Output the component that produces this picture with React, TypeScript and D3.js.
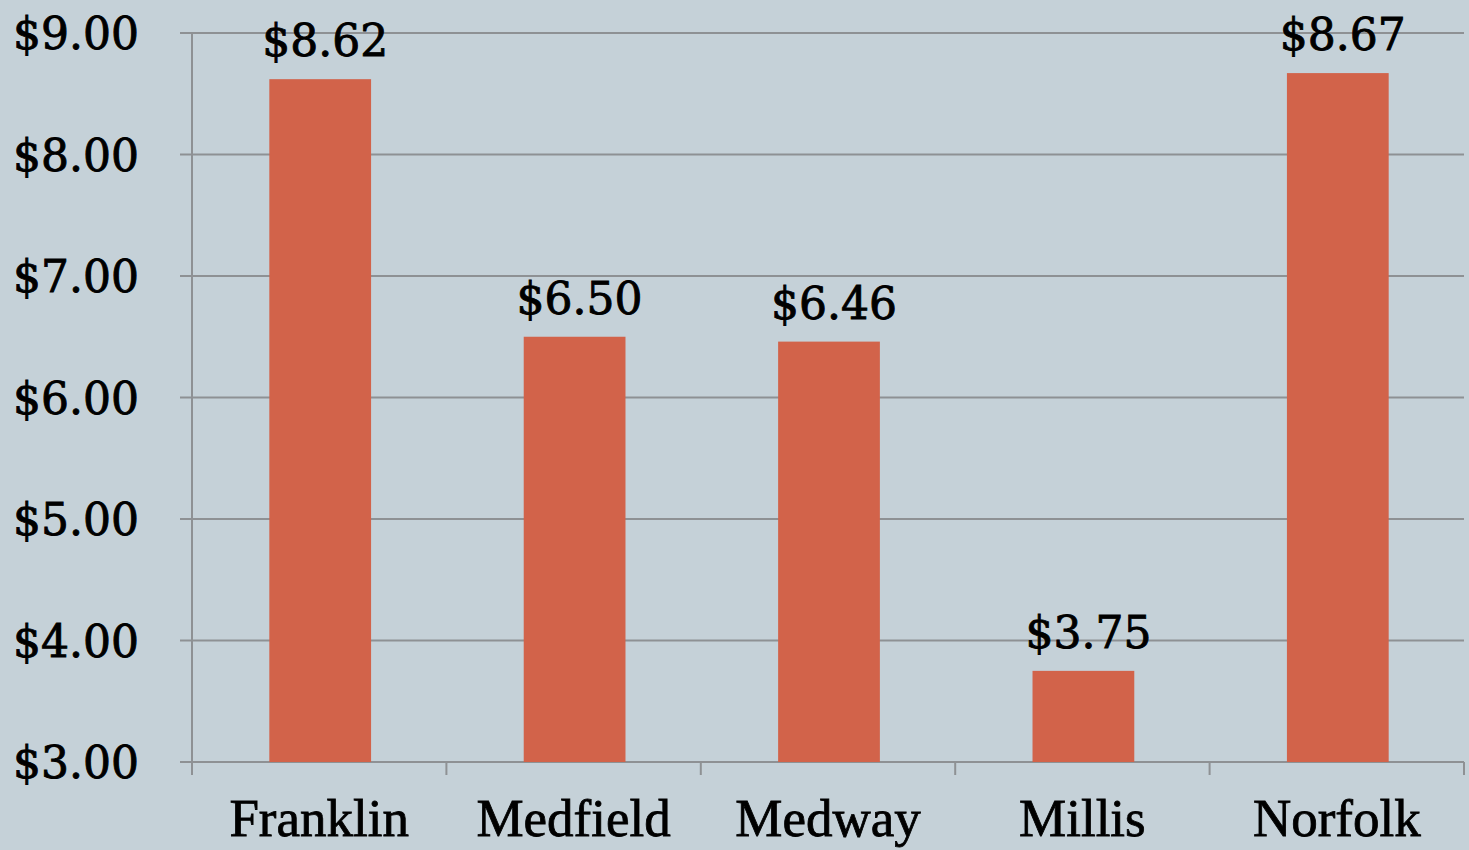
import React from "react";
import * as d3 from "d3";

const categories = ["Franklin", "Medfield", "Medway", "Millis", "Norfolk"];
const values = [8.62, 6.5, 6.46, 3.75, 8.67];
const yTicks = [3, 4, 5, 6, 7, 8, 9];

const W = 1469;
const H = 850;

export default function App() {
  const x = d3
    .scaleBand<string>()
    .domain(categories)
    .range([192, 1464])
    .paddingInner(0.6)
    .paddingOuter(0.3);
  const y = d3.scaleLinear().domain([3, 9]).range([762, 33]);
  const step = x.step();
  const bandEdges = categories.map((_, i) => 192 + i * step).concat([1464]);
  const fmt = (v: number) => "$" + d3.format(".2f")(v);
  const grid = "#8e9194";

  return (
    <div style={{ position: "fixed", left: 0, top: 0 }}>
      <svg width={W} height={H} style={{ display: "block" }}>
        <rect x={0} y={0} width={W} height={H} fill="#c5d1d8" />
        {yTicks.map((t) => (
          <g key={t}>
            <line x1={180} x2={1464} y1={y(t)} y2={y(t)} stroke={grid} strokeWidth={2} />
            <text
              x={139}
              y={y(t) + 16}
              textAnchor="end"
              fontFamily="'DejaVu Serif', serif"
              fontSize={44}
              fill="#000"
              stroke="#000"
              strokeWidth={0.9}
            >
              {fmt(t)}
            </text>
          </g>
        ))}
        <line x1={192} x2={192} y1={33} y2={774} stroke={grid} strokeWidth={2} />
        {bandEdges.map((bx, i) => (
          <line key={i} x1={bx} x2={bx} y1={762} y2={775} stroke={grid} strokeWidth={2} />
        ))}
        {categories.map((c, i) => (
          <g key={c}>
            <rect
              x={x(c)! + 1}
              y={y(values[i])}
              width={x.bandwidth()}
              height={y(3) - y(values[i])}
              fill="#d2634a"
            />
            <text
              x={x(c)! + x.bandwidth() / 2 + 6}
              y={y(values[i]) - 23}
              textAnchor="middle"
              fontFamily="'DejaVu Serif', serif"
              fontSize={44}
              fill="#000"
              stroke="#000"
              strokeWidth={0.9}
            >
              {fmt(values[i])}
            </text>
            <text
              x={x(c)! + x.bandwidth() / 2}
              y={836}
              textAnchor="middle"
              fontFamily="'Liberation Serif', serif"
              fontSize={53}
              fill="#000"
              stroke="#000"
              strokeWidth={0.8}
            >
              {c}
            </text>
          </g>
        ))}
      </svg>
    </div>
  );
}
